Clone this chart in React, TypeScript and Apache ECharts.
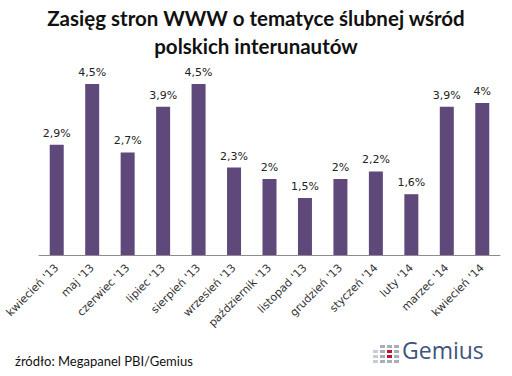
import React, { useEffect, useRef } from "react";
import * as echarts from "echarts";

const categories = [
  "kwiecień '13", "maj '13", "czerwiec '13", "lipiec '13", "sierpień '13", "wrzesień '13",
  "październik '13", "listopad '13", "grudzień '13", "styczeń '14", "luty '14", "marzec '14", "kwiecień '14",
];
const values = [2.9, 4.5, 2.7, 3.9, 4.5, 2.3, 2.0, 1.5, 2.0, 2.2, 1.6, 3.9, 4.0];
const titleLines = ["Zasięg stron WWW o tematyce ślubnej wśród", "polskich interunautów"];
const sourceText = "źródło: Megapanel PBI/Gemius";
const logoText = "Gemius";

function logoGrid() {
  const els: any[] = [];
  const cols = 4, rows = 4;
  for (let c = 0; c < cols; c++) {
    for (let r = 0; r < rows; r++) {
      const isRed = c === 2 && (r === 1 || r === 2);
      if (c === 0 && r < 1) continue;
      els.push({
        type: "rect",
        shape: { x: 373 + c * 7, y: 345 + r * 5, width: 5, height: 3 },
        style: { fill: isRed ? "#c8102e" : c === 0 ? "#c9ccd3" : "#a9aebb" },
        silent: true,
        z: 10,
      });
    }
  }
  return els;
}

export default function App() {
  const ref = useRef<HTMLDivElement>(null);
  useEffect(() => {
    const chart = echarts.init(ref.current!, null, { renderer: "svg" });
    chart.setOption({
      animation: false,
      backgroundColor: "#ffffff",
      grid: { left: 39, right: 12, top: 65, bottom: 121 },
      xAxis: {
        type: "category",
        data: categories,
        axisLine: { lineStyle: { color: "#8c8c8c", width: 1 } },
        axisTick: { show: false },
        axisLabel: {
          rotate: 45,
          interval: 0,
          fontFamily: "DejaVu Sans",
          fontSize: 11,
          color: "#333",
          margin: 11,
        },
      },
      yAxis: {
        type: "value",
        min: 0,
        max: 5,
        show: false,
        splitLine: { show: false },
      },
      series: [
        {
          type: "bar",
          data: values,
          barWidth: 14,
          itemStyle: { color: "#5f497a" },
          label: {
            show: true,
            position: "top",
            distance: 6,
            fontFamily: "DejaVu Sans",
            fontSize: 11,
            color: "#222",
            formatter: (p: any) => String(p.value).replace(".", ",") + "%",
          },
        },
      ],
      graphic: [
        {
          type: "text",
          left: "center",
          top: 4,
          style: {
            text: titleLines.join("\n"),
            fontFamily: "Lato",
            fontWeight: "bold",
            fontSize: 20.5,
            lineHeight: 28,
            textAlign: "center",
            fill: "#111",
          },
        },
        {
          type: "text",
          x: 15,
          y: 354,
          style: { text: sourceText, fontFamily: "Lato", fontSize: 13, fill: "#111" },
        },
        {
          type: "text",
          x: 402,
          y: 338,
          style: { text: logoText, fontFamily: "Open Sans", fontSize: 23, fill: "#3f5380" },
        },
        ...logoGrid(),
      ],
    });
    return () => chart.dispose();
  }, []);
  return <div ref={ref} style={{ width: 512, height: 376, position: "absolute", left: 0, top: 0 }} />;
}
